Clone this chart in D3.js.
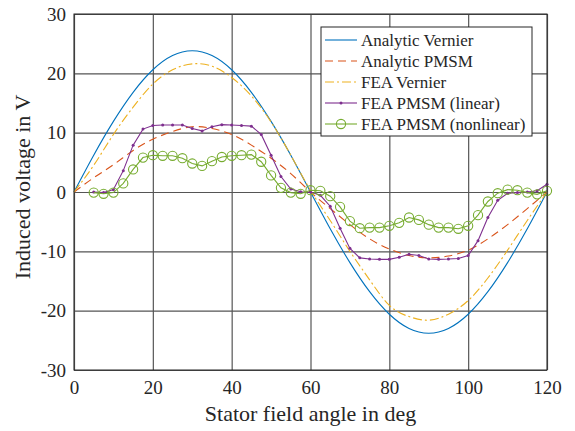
<!DOCTYPE html>
<html>
<head>
<meta charset="utf-8">
<script src="https://cdn.jsdelivr.net/npm/d3@7"></script>
<style>
  body { margin: 0; background: #fff; }
  text { font-family: "Liberation Serif", "Times New Roman", serif; fill: #262626; }
</style>
</head>
<body>
<script>
// analytic curves, every 5 deg
var anglesAnalytic = [0, 5, 10, 15, 20, 25, 30, 35, 40, 45, 50, 55, 60,
    65, 70, 75, 80, 85, 90, 95, 100, 105, 110, 115, 120];
var analyticVernier = [0, 6.2, 11.9, 16.8, 20.6, 23.0, 23.8, 23.0, 20.6, 16.8, 11.9, 6.2, 0,
    -6.2, -11.9, -16.8, -20.6, -23.0, -23.8, -23.0, -20.6, -16.8, -11.9, -6.2, 0];
var analyticPMSM = [0, 2.4, 4.6, 7.0, 8.9, 10.2, 11.0, 10.7, 9.7, 7.9, 5.7, 3.1, 0,
    -2.8, -5.5, -7.9, -9.6, -10.7, -11.1, -10.8, -9.8, -7.9, -5.5, -2.8, 0];
var feaVernier = [0, 4.5, 9.7, 14.3, 18.2, 20.6, 21.6, 21.2, 19.3, 16.2, 11.8, 6.2, 0.3,
    -4.8, -10.0, -14.8, -19.1, -21.0, -21.6, -20.6, -18.3, -14.5, -9.8, -4.8, 0];

// FEA PMSM samples, every 2.5 deg
var anglesFEA = [5, 7.5, 10, 12.5, 15, 17.5, 20, 22.5, 25, 27.5, 30, 32.5, 35, 37.5, 40, 42.5,
    45, 47.5, 50, 52.5, 55, 57.5, 60, 62.5, 65, 67.5, 70, 72.5, 75, 77.5, 80, 82.5, 85, 87.5,
    90, 92.5, 95, 97.5, 100, 102.5, 105, 107.5, 110, 112.5, 115, 117.5, 120];
var feaLinear = [0, -0.1, 0.4, 3.6, 7.9, 10.6, 11.2, 11.3, 11.3, 11.3, 10.7, 10.3, 11.0, 11.35, 11.3, 11.2,
    11.1, 9.7, 6.2, 2.6, 0.5, 0.05, 0, -0.55, -2.4, -6.1, -9.5, -11.1, -11.3, -11.35, -11.35, -11.0, -10.5, -10.7,
    -11.3, -11.35, -11.3, -11.2, -10.7, -8.2, -4.3, -1.4, -0.2, -0.1, 0, 0.2, 1.3];
var feaNonlinear = [-0.1, -0.3, -0.1, 1.45, 3.8, 5.8, 6.2, 6.1, 6.1, 5.7, 4.8, 4.4, 5.2, 5.9, 6.1, 6.2,
    6.3, 5.1, 2.8, 0.7, -0.1, -0.3, 0.3, 0.2, -0.7, -2.5, -4.9, -6.1, -6.0, -6.0, -5.7, -5.2, -4.3, -4.7,
    -5.5, -6.0, -6.0, -6.2, -5.7, -3.9, -1.6, -0.2, 0.4, 0.3, -0.1, -0.4, 0.2];

var xTicks = [0, 20, 40, 60, 80, 100, 120];
var yTicks = [-30, -20, -10, 0, 10, 20, 30];

var width = 575, height = 431;
var margin = {top: 14, right: 28, bottom: 61, left: 74};

var x = d3.scaleLinear().domain([0, 120]).range([margin.left, width - margin.right]);
var y = d3.scaleLinear().domain([-30, 30]).range([height - margin.bottom, margin.top]);

// plain hyphen minus like the original
var fmt = function(d) { return String(d); };

var svg = d3.select("body").append("svg")
    .attr("width", width)
    .attr("height", height);

// grid
svg.append("g")
    .attr("transform", "translate(0," + (height - margin.bottom) + ")")
    .call(d3.axisBottom(x).tickValues(xTicks).tickSize(-(height - margin.top - margin.bottom)).tickFormat(""))
    .call(g => g.select(".domain").remove())
    .call(g => g.selectAll("line").attr("stroke", "#555").attr("stroke-width", 1.2));
svg.append("g")
    .attr("transform", "translate(" + margin.left + ",0)")
    .call(d3.axisLeft(y).tickValues(yTicks).tickSize(-(width - margin.left - margin.right)).tickFormat(""))
    .call(g => g.select(".domain").remove())
    .call(g => g.selectAll("line").attr("stroke", "#555").attr("stroke-width", 1.2));

// tick labels
var xAxis = svg.append("g")
    .attr("transform", "translate(0," + (height - margin.bottom) + ")")
    .call(d3.axisBottom(x).tickValues(xTicks).tickFormat(fmt).tickSize(0).tickPadding(11));
xAxis.select(".domain").remove();
xAxis.selectAll("text").style("font-size", "19px").attr("fill", "#262626");

var yAxis = svg.append("g")
    .attr("transform", "translate(" + margin.left + ",0)")
    .call(d3.axisLeft(y).tickValues(yTicks).tickFormat(fmt).tickSize(0).tickPadding(8));
yAxis.select(".domain").remove();
yAxis.selectAll("text").style("font-size", "19px").attr("fill", "#262626");

// lines
var line = d3.line()
    .x(function(d) { return x(d[0]); })
    .y(function(d) { return y(d[1]); });
var smooth = d3.line()
    .curve(d3.curveNatural)
    .x(function(d) { return x(d[0]); })
    .y(function(d) { return y(d[1]); });

function pairs(xs, ys) { return xs.map(function(v, i) { return [v, ys[i]]; }); }

var series = [
    {name: "Analytic Vernier", data: pairs(anglesAnalytic, analyticVernier), color: "#0072BD", dash: null, gen: smooth},
    {name: "Analytic PMSM", data: pairs(anglesAnalytic, analyticPMSM), color: "#D95319", dash: "8,5", gen: smooth},
    {name: "FEA Vernier", data: pairs(anglesAnalytic, feaVernier), color: "#EDB120", dash: "9,3,2,3", gen: smooth},
    {name: "FEA PMSM (linear)", data: pairs(anglesFEA, feaLinear), color: "#7E2F8E", dash: null, gen: line, marker: "dot"},
    {name: "FEA PMSM (nonlinear)", data: pairs(anglesFEA, feaNonlinear), color: "#77AC30", dash: null, gen: line, marker: "circle"}
];

var plot = svg.append("g");
series.forEach(function(s) {
    plot.append("path")
        .attr("d", s.gen(s.data))
        .attr("fill", "none")
        .attr("stroke", s.color)
        .attr("stroke-width", 1.1)
        .attr("stroke-dasharray", s.dash);
    if (s.marker === "dot") {
        plot.selectAll(null).data(s.data).enter().append("circle")
            .attr("cx", function(d) { return x(d[0]); })
            .attr("cy", function(d) { return y(d[1]); })
            .attr("r", 1.5)
            .attr("fill", s.color);
    } else if (s.marker === "circle") {
        plot.selectAll(null).data(s.data).enter().append("circle")
            .attr("cx", function(d) { return x(d[0]); })
            .attr("cy", function(d) { return y(d[1]); })
            .attr("r", 4.6)
            .attr("fill", "none")
            .attr("stroke", s.color)
            .attr("stroke-width", 1.1);
    }
});

// box
svg.append("rect")
    .attr("x", margin.left)
    .attr("y", margin.top)
    .attr("width", width - margin.left - margin.right)
    .attr("height", height - margin.top - margin.bottom)
    .attr("fill", "none")
    .attr("stroke", "#262626")
    .attr("stroke-width", 1);

// axis titles
svg.append("text")
    .attr("x", x(60))
    .attr("y", 413)
    .attr("dy", "0.35em")
    .attr("text-anchor", "middle")
    .style("font-size", "22px")
    .text("Stator field angle in deg");
svg.append("text")
    .attr("transform", "translate(22,187) rotate(-90)")
    .attr("dy", "0.35em")
    .attr("text-anchor", "middle")
    .style("font-size", "22px")
    .text("Induced voltage in V");

// legend
var legend = svg.append("g").attr("transform", "translate(321,27)");
legend.append("rect")
    .attr("width", 211)
    .attr("height", 109)
    .attr("fill", "#fff")
    .attr("stroke", "#262626")
    .attr("stroke-width", 1);
series.forEach(function(s, i) {
    var cy = 13 + i * 21;
    legend.append("line")
        .attr("x1", 4).attr("x2", 36)
        .attr("y1", cy).attr("y2", cy)
        .attr("stroke", s.color)
        .attr("stroke-width", 1.1)
        .attr("stroke-dasharray", s.dash);
    if (s.marker === "dot") {
        legend.append("circle").attr("cx", 20).attr("cy", cy).attr("r", 1.5).attr("fill", s.color);
    } else if (s.marker === "circle") {
        legend.append("circle").attr("cx", 20).attr("cy", cy).attr("r", 4.6)
            .attr("fill", "none").attr("stroke", s.color).attr("stroke-width", 1.1);
    }
    legend.append("text")
        .attr("x", 40)
        .attr("y", cy)
        .attr("dy", "0.35em")
        .style("font-size", "17px")
        .text(s.name);
});
</script>
</body>
</html>
